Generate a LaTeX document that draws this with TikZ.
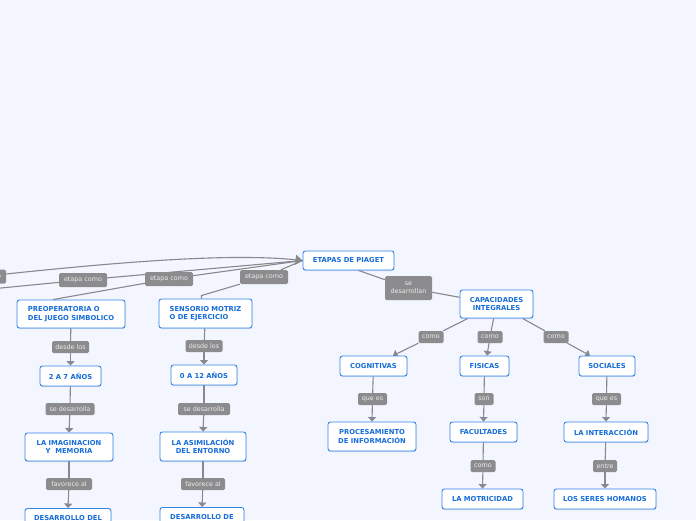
\documentclass[tikz,border=0pt]{standalone}
\usepackage{fontspec}
\setmainfont{DejaVu Sans}
\usetikzlibrary{arrows.meta,backgrounds,calc,shadows}
\definecolor{bg}{RGB}{243,246,254}
\definecolor{bx}{RGB}{52,132,232}
\definecolor{tx}{RGB}{22,108,216}
\definecolor{lb}{RGB}{140,140,142}
\definecolor{lt}{RGB}{236,236,236}
\definecolor{ln}{RGB}{136,136,142}
\tikzset{
 box/.style={draw=bx, line width=0.9pt, fill=white, rounded corners=2.5pt,
   font=\bfseries\fontsize{6.8}{8.6}\selectfont, text=tx, align=center, inner sep=0pt,
   drop shadow={shadow xshift=0.4pt, shadow yshift=-1pt, opacity=0.25, fill=bx!60!gray}},
 lab/.style={fill=lb, rounded corners=1.5pt, text=lt,
   font=\fontsize{6.4}{7.6}\selectfont, inner sep=0pt, align=center},
 conn/.style={draw=ln, line width=1.1pt},
 arr/.style={conn, -{Triangle[length=4.5pt,width=8pt]}},
 bigarr/.style={conn, -{Triangle[length=7pt,width=10pt]}},
}
\begin{document}
\begin{tikzpicture}[x=1pt,y=-1pt]
\useasboundingbox (0,0) rectangle (696,520);
\begin{scope}[on background layer]
\fill[bg] (0,0) rectangle (696,520);
\end{scope}

% right part
\node[box,minimum width=91pt,minimum height=19pt] (etapas) at (348.5,260.5) {ETAPAS DE PIAGET};
\node[lab,minimum width=47pt,minimum height=24pt] (lsd) at (408.5,288) {se\\desarrollan};
\node[box,minimum width=73pt,minimum height=28pt] (cap) at (496.5,304) {CAPACIDADES\\INTEGRALES};
\node[lab,minimum width=25pt,minimum height=12pt] (lc1) at (431,337) {como};
\node[lab,minimum width=25pt,minimum height=12pt] (lc2) at (490,337) {como};
\node[lab,minimum width=25pt,minimum height=12pt] (lc3) at (556,337) {como};
\node[box,minimum width=67pt,minimum height=20pt] (cog) at (373.5,366) {COGNITIVAS};
\node[box,minimum width=49pt,minimum height=20pt] (fis) at (484.5,366) {FISICAS};
\node[box,minimum width=56pt,minimum height=20pt] (soc) at (607,366) {SOCIALES};
\node[lab,minimum width=29pt,minimum height=12pt] (lq1) at (372.5,399) {que es};
\node[lab,minimum width=19pt,minimum height=12pt] (lson) at (484,399) {son};
\node[lab,minimum width=29pt,minimum height=12pt] (lq2) at (606.5,399) {que es};
\node[box,minimum width=88pt,minimum height=29pt] (proc) at (372,436.5) {PROCESAMIENTO\\DE INFORMACIÓN};
\node[box,minimum width=67pt,minimum height=20pt] (fac) at (483.5,432) {FACULTADES};
\node[box,minimum width=84pt,minimum height=20pt] (inter) at (606,432) {LA INTERACCIÓN};
\node[lab,minimum width=25pt,minimum height=12pt] (lc4) at (483,466) {como};
\node[lab,minimum width=24pt,minimum height=12pt] (lent) at (605,466) {entre};
\node[box,minimum width=81pt,minimum height=20pt] (mot) at (482.5,499) {LA MOTRICIDAD};
\node[box,minimum width=102pt,minimum height=20pt] (seres) at (605,499) {LOS SERES HOMANOS};

% left part
\node[lab,minimum width=48pt,minimum height=14pt] (le0) at (-18,276.5) {etapa como};
\node[lab,minimum width=48pt,minimum height=14pt] (le1) at (83,280) {etapa como};
\node[lab,minimum width=48pt,minimum height=14pt] (le2) at (169,279) {etapa como};
\node[lab,minimum width=48pt,minimum height=14pt] (le3) at (264,277) {etapa como};
\coordinate (offB) at (-40,292);
\node[box,minimum width=108pt,minimum height=28pt,align=left] (pre) at (71,314) {PREOPERATORIA O\\DEL JUEGO SIMBOLICO};
\node[box,minimum width=93pt,minimum height=29pt,align=left] (sen) at (205.5,313.5) {SENSORIO MOTRIZ\\O DE EJERCICIO};
\node[lab,minimum width=37pt,minimum height=12pt] (ld1) at (70.5,347) {desde los};
\node[box,minimum width=61pt,minimum height=20pt] (a27) at (70.5,376) {2 A 7 AÑOS};
\node[lab,minimum width=49pt,minimum height=12pt] (ls1) at (70,409) {se desarrolla};
\node[box,minimum width=88pt,minimum height=28pt] (imag) at (69,447) {LA IMAGINACION\\Y\ \ MEMORIA};
\node[lab,minimum width=46pt,minimum height=12pt] (lf1) at (69,484) {favorece al};
\node[box,minimum width=86pt,anchor=north,text height=12pt,text depth=18pt] (des1) at (68,508) {DESARROLLO DEL};
\node[lab,minimum width=37pt,minimum height=12pt] (ld2) at (204,346) {desde los};
\node[box,minimum width=66pt,minimum height=20pt] (a012) at (204,375) {0 A 12 AÑOS};
\node[lab,minimum width=52pt,minimum height=12pt] (ls2) at (204,409) {se desarrolla};
\node[box,minimum width=86pt,minimum height=29pt] (asim) at (203,446.5) {LA ASIMILACIÓN\\DEL ENTORNO};
\node[lab,minimum width=44pt,minimum height=12pt] (lf2) at (203,484) {favorece al};
\node[box,minimum width=84pt,anchor=north,text height=12pt,text depth=18pt] (des2) at (202,507) {DESARROLLO DE};

\begin{scope}[on background layer]
% into ETAPAS
\draw[bigarr] (le0) .. controls (120,262) and (230,253) .. (etapas.west);
\draw[conn] (offB) -- (le1) -- (etapas.west);
\draw[conn] ($(pre.north)+(-18,0)$) -- (le2) -- (etapas.west);
\draw[conn] ($(sen.north)+(-4,0)$) -- ++(0,-3) -- (le3) -- (etapas.west);
% ETAPAS to CAPACIDADES
\draw[conn] ($(etapas.south)+(10,0)$) -- (lsd) -- (cap);
\draw[conn] (cap) -- (lc1);
\draw[arr] (lc1) -- ($(cog.north)+(19.5,0)$);
\draw[conn] (cap) -- (lc2);
\draw[arr] (lc2) -- ($(fis.north)+(2.5,0)$);
\draw[conn] (cap) -- (lc3);
\draw[arr] (lc3) -- ($(soc.north)+(-17,0)$);
\draw[conn] (cog) -- (lq1);
\draw[arr] (lq1) -- (proc.north);
\draw[conn] (fis) -- (lson);
\draw[arr] (lson) -- (fac.north);
\draw[conn] (soc) -- (lq2);
\draw[arr] (lq2) -- (inter.north);
\draw[conn] (fac) -- (lc4);
\draw[arr] (lc4) -- (mot.north);
\draw[conn] (inter) -- (lent);
\draw[arr] (lent) -- (seres.north);
% left columns
\draw[conn] (pre) -- (ld1);
\draw[arr] (ld1) -- (a27.north);
\draw[conn] (a27) -- (ls1);
\draw[arr] (ls1) -- (imag.north);
\draw[conn] (imag) -- (lf1);
\draw[arr] (lf1) -- (des1.north);
\draw[conn] (sen) -- (ld2);
\draw[arr] (ld2) -- (a012.north);
\draw[conn] (a012) -- (ls2);
\draw[arr] (ls2) -- (asim.north);
\draw[conn] (asim) -- (lf2);
\draw[arr] (lf2) -- (des2.north);
\end{scope}
\end{tikzpicture}
\end{document}
